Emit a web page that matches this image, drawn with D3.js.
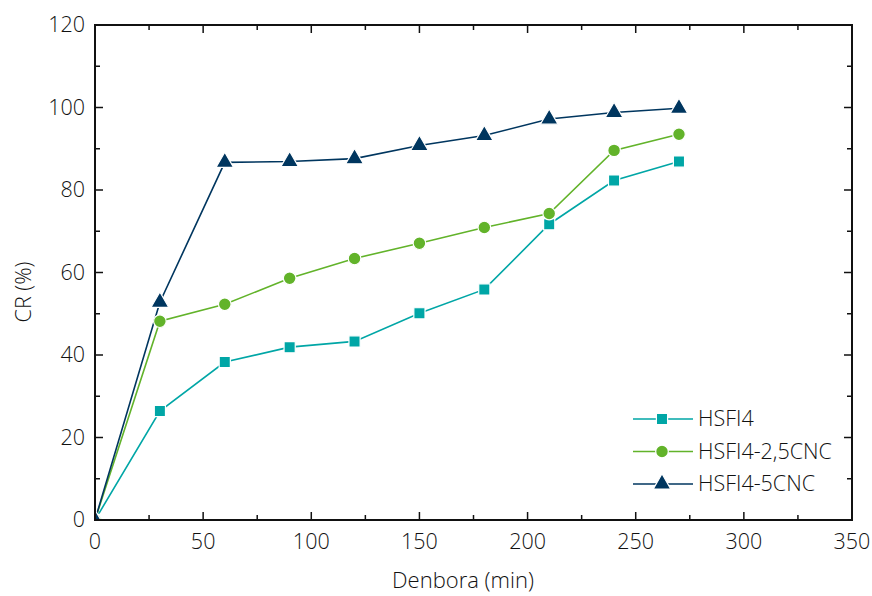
<!DOCTYPE html>
<html><head><meta charset="utf-8">
<script src="https://cdn.jsdelivr.net/npm/d3@7"></script>
<style>body{margin:0;background:#fff}svg{display:block}text{font-family:"Open Sans","Noto Sans",sans-serif;font-weight:300;fill:#111}</style>
</head><body><svg id="c" width="872" height="596"></svg>
<script>
const times = [0, 30, 60, 90, 120, 150, 180, 210, 240, 270];
const hsfi4 = [0, 26.4, 38.3, 41.9, 43.3, 50.1, 55.9, 71.7, 82.3, 86.9];
const hsfi4_25cnc = [0, 48.2, 52.3, 58.6, 63.4, 67.1, 70.9, 74.3, 89.6, 93.5];
const hsfi4_5cnc = [0, 52.8, 86.7, 86.9, 87.6, 90.8, 93.2, 97.2, 98.8, 99.8];
const seriesNames = ["HSFI4", "HSFI4-2,5CNC", "HSFI4-5CNC"];
const xTicks = [0, 50, 100, 150, 200, 250, 300, 350];
const yTicks = [0, 20, 40, 60, 80, 100, 120];

const colors = ["#00a6a6", "#62b32a", "#00365f"];
const symbols = [d3.symbolSquare, d3.symbolCircle, d3.symbolTriangle];
const symSizes = [125, 125, 135];
const seriesVals = [hsfi4, hsfi4_25cnc, hsfi4_5cnc];

const svg = d3.select("#c");
const L = 95, R = 852, T = 25, B = 520;
const x = d3.scaleLinear().domain([0, 350]).range([L, R]);
const y = d3.scaleLinear().domain([0, 120]).range([B, T]);

svg.append("clipPath").attr("id","pa").append("rect").attr("x",L).attr("y",T).attr("width",R-L).attr("height",B-T);

const ax = "#111";
const xMinor = d3.range(25, 350, 50);
const yMinor = d3.range(10, 120, 20);
function axisLines(){
  const g = svg.append("g").attr("stroke", ax).attr("stroke-width", 1.5);
  xTicks.forEach(v => { g.append("line").attr("x1",x(v)).attr("x2",x(v)).attr("y1",B).attr("y2",B-8); g.append("line").attr("x1",x(v)).attr("x2",x(v)).attr("y1",T).attr("y2",T+8);});
  xMinor.forEach(v => { g.append("line").attr("x1",x(v)).attr("x2",x(v)).attr("y1",B).attr("y2",B-5); g.append("line").attr("x1",x(v)).attr("x2",x(v)).attr("y1",T).attr("y2",T+5);});
  yTicks.forEach(v => { g.append("line").attr("y1",y(v)).attr("y2",y(v)).attr("x1",L).attr("x2",L+8); g.append("line").attr("y1",y(v)).attr("y2",y(v)).attr("x1",R).attr("x2",R-8);});
  yMinor.forEach(v => { g.append("line").attr("y1",y(v)).attr("y2",y(v)).attr("x1",L).attr("x2",L+5); g.append("line").attr("y1",y(v)).attr("y2",y(v)).attr("x1",R).attr("x2",R-5);});
  svg.append("rect").attr("x",L).attr("y",T).attr("width",R-L).attr("height",B-T).attr("fill","none").attr("stroke",ax).attr("stroke-width",2);
}

const plot = svg.append("g").attr("clip-path","url(#pa)");
const line = d3.line().x((d,i)=>x(times[i])).y(d=>y(d));
seriesVals.forEach((vals, k) => {
  plot.append("path").attr("d", line(vals)).attr("fill","none").attr("stroke",colors[k]).attr("stroke-width",1.6);
});
seriesVals.forEach((vals, k) => {
  plot.selectAll(null).data(vals).enter().append("path")
    .attr("d", d3.symbol().type(symbols[k]).size(symSizes[k]))
    .attr("transform",(d,i)=>`translate(${x(times[i])},${y(d)})`)
    .attr("fill",colors[k]).attr("stroke","#fff").attr("stroke-width",1.2);
});
axisLines();

const fs = 21.5;
svg.append("g").selectAll("text").data(xTicks).enter().append("text")
  .attr("x",d=>x(d)).attr("y",B+29).attr("text-anchor","middle").attr("font-size",fs).text(d=>d);
svg.append("g").selectAll("text").data(yTicks).enter().append("text")
  .attr("x",L-10).attr("y",d=>y(d)+7).attr("text-anchor","end").attr("font-size",fs).text(d=>d);

svg.append("text").attr("x",463).attr("y",588).attr("text-anchor","middle").attr("font-size",22).text("Denbora (min)");
svg.append("text").attr("transform",`translate(31,${292}) rotate(-90)`).attr("text-anchor","middle").attr("font-size",fs).text("CR (%)");

const lg = svg.append("g");
seriesNames.forEach((n, k) => {
  const yy = 419 + k*32.5;
  lg.append("line").attr("x1",633).attr("x2",693).attr("y1",yy).attr("y2",yy).attr("stroke",colors[k]).attr("stroke-width",1.6);
  lg.append("path").attr("d", d3.symbol().type(symbols[k]).size(symSizes[k])).attr("transform",`translate(662,${yy})`)
    .attr("fill",colors[k]).attr("stroke","#fff").attr("stroke-width",1.2);
  lg.append("text").attr("x",698).attr("y",yy+7).attr("font-size",fs).text(n);
});
</script></body></html>
